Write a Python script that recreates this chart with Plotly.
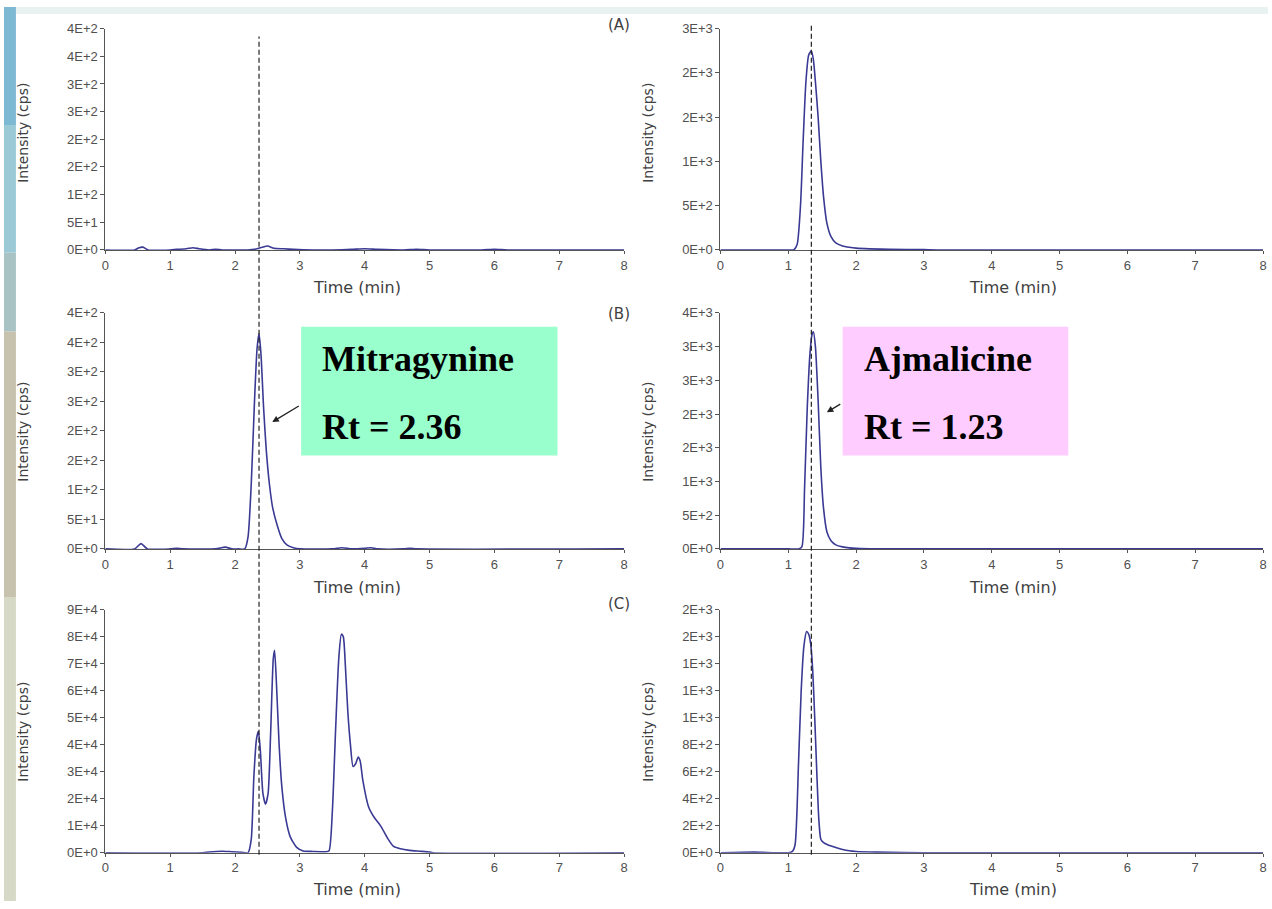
import plotly.graph_objects as go
from plotly.subplots import make_subplots

W, H = 1272, 909

# ---------------- data ----------------
# Left column (Mitragynine channel)
t_left_a = [0, 0.45, 0.52, 0.58, 0.66, 1.0, 1.1, 1.25, 1.35, 1.45, 1.6, 1.7, 1.8, 2.0, 2.2, 2.3,
            2.42, 2.5, 2.6, 2.75, 2.9, 3.2, 3.5, 3.8, 4.0, 4.2, 4.6, 4.8, 5.0, 5.8, 6.0, 6.2, 7.0, 8.0]
i_left_a = [0, 0, 4, 5, 0, 0, 1, 2, 4, 2, 0, 1, 0, 0, 0, 1,
            5, 7, 3, 2, 1, 0, 0, 1, 2, 1, 0, 1, 0, 0, 1, 0, 0, 0]

t_left_b = [0, 0.45, 0.55, 0.65, 1.0, 1.1, 1.2, 1.7, 1.85, 1.95, 2.05, 2.15, 2.2, 2.25, 2.3, 2.34,
            2.37, 2.40, 2.44, 2.48, 2.53, 2.58, 2.65, 2.72, 2.8, 2.9, 3.0, 3.5, 3.65, 3.8, 4.0,
            4.1, 4.2, 4.6, 4.7, 4.8, 8.0]
i_left_b = [0, 0, 9, 0, 0, 1, 0, 0, 3, 0, 0, 0, 20, 110, 250, 340,
            365, 330, 240, 170, 110, 70, 40, 18, 7, 2, 0, 0, 2, 0, 1,
            2, 0, 0, 1, 0, 0]

t_left_c = [0, 1.5, 1.6, 1.8, 1.95, 2.1, 2.2, 2.25, 2.29, 2.33, 2.36, 2.39, 2.43, 2.47, 2.51,
            2.55, 2.59, 2.61, 2.64, 2.68, 2.72, 2.78, 2.85, 2.95, 3.05, 3.2, 3.4, 3.45, 3.5,
            3.55, 3.6, 3.64, 3.67, 3.7, 3.74, 3.78, 3.82, 3.86, 3.9, 3.93, 3.97, 4.06, 4.15,
            4.25, 4.35, 4.44, 4.55, 4.69, 4.85, 5.0, 5.05, 8.0]
i_left_c = [0, 0, 300, 600, 400, 200, 0, 5000, 28000, 42000, 45000, 38000, 22000, 18000, 22000,
            45000, 72000, 75000, 62000, 40000, 25000, 13000, 6000, 2000, 700, 500, 400, 800, 15000,
            45000, 72000, 81000, 80000, 70000, 52000, 40000, 32000, 33000, 35500, 34000, 27000, 17000, 13000,
            9800, 5500, 2500, 1500, 900, 600, 300, 0, 0]

# Right column (Ajmalicine channel)
t_right_a = [0, 0.5, 1.0, 1.08, 1.13, 1.18, 1.22, 1.26, 1.30, 1.34, 1.37, 1.40, 1.44, 1.48,
             1.52, 1.57, 1.63, 1.7, 1.8, 1.9, 2.0, 2.2, 2.5, 3.0, 3.2, 8.0]
i_right_a = [0, 0, 0, 0, 60, 500, 1250, 1900, 2200, 2250, 2150, 1900, 1500, 1000,
             600, 300, 150, 80, 45, 30, 20, 12, 6, 3, 0, 0]

t_right_b = [0, 1.0, 1.15, 1.20, 1.24, 1.28, 1.32, 1.35, 1.37, 1.40, 1.44, 1.48, 1.52, 1.57,
             1.63, 1.7, 1.8, 1.9, 2.0, 2.3, 8.0]
i_right_b = [0, 0, 0, 30, 900, 2100, 2900, 3180, 3220, 3000, 2200, 1200, 600, 250,
             120, 60, 30, 15, 8, 0, 0]

t_right_c = [0, 0.5, 1.0, 1.06, 1.1, 1.15, 1.19, 1.23, 1.27, 1.30, 1.33, 1.36, 1.39, 1.42,
             1.45, 1.48, 1.52, 1.58, 1.7, 1.8, 1.9, 2.0, 2.3, 3.0, 8.0]
i_right_c = [0, 5, 0, 10, 60, 650, 1200, 1530, 1640, 1620, 1550, 1350, 1000, 600,
             250, 100, 75, 60, 40, 25, 15, 10, 5, 0, 0]

# Tick values / labels
x_ticks = [0, 1, 2, 3, 4, 5, 6, 7, 8]
y_ticks_left_ab = [0, 50, 100, 150, 200, 250, 300, 350, 400]
y_text_left_ab = ["0E+0", "5E+1", "1E+2", "2E+2", "2E+2", "3E+2", "3E+2", "4E+2", "4E+2"]
y_ticks_left_c = [0, 10000, 20000, 30000, 40000, 50000, 60000, 70000, 80000, 90000]
y_text_left_c = ["0E+0", "1E+4", "2E+4", "3E+4", "4E+4", "5E+4", "6E+4", "7E+4", "8E+4", "9E+4"]
y_ticks_right_a = [0, 500, 1000, 1500, 2000, 2500]
y_text_right_a = ["0E+0", "5E+2", "1E+3", "2E+3", "2E+3", "3E+3"]
y_ticks_right_b = [0, 500, 1000, 1500, 2000, 2500, 3000, 3500]
y_text_right_b = ["0E+0", "5E+2", "1E+3", "2E+3", "2E+3", "3E+3", "3E+3", "4E+3"]
y_ticks_right_c = [0, 200, 400, 600, 800, 1000, 1200, 1400, 1600, 1800]
y_text_right_c = ["0E+0", "2E+2", "4E+2", "6E+2", "8E+2", "1E+3", "1E+3", "1E+3", "2E+3", "2E+3"]

rt_left_line = 2.37
rt_right_line = 1.34

# ---------------- helpers ----------------
def px(x):
    return x / W

def py(y):
    return 1 - y / H

fig = make_subplots(rows=3, cols=2)

series = [
    (1, 1, t_left_a, i_left_a), (1, 2, t_right_a, i_right_a),
    (2, 1, t_left_b, i_left_b), (2, 2, t_right_b, i_right_b),
    (3, 1, t_left_c, i_left_c), (3, 2, t_right_c, i_right_c),
]
LINE_COLOR = "#3a3a94"
for r, c, t, v in series:
    fig.add_trace(go.Scatter(x=t, y=v, mode="lines",
                             line=dict(color=LINE_COLOR, width=1.6, shape="spline", smoothing=0.6),
                             showlegend=False, hoverinfo="skip"), row=r, col=c)

AX = "#555555"
TICKFONT = dict(family="Liberation Sans, Arial, sans-serif", size=13, color="#505050")

x_dom_left = [px(102), px(624)]
x_dom_right = [px(721), px(1267)]
y_doms = [[py(247), py(22)], [py(551), py(311)], [py(860), py(613)]]
yconf = {
    (1, 1): (y_ticks_left_ab, y_text_left_ab),
    (1, 2): (y_ticks_right_a, y_text_right_a),
    (2, 1): (y_ticks_left_ab, y_text_left_ab),
    (2, 2): (y_ticks_right_b, y_text_right_b),
    (3, 1): (y_ticks_left_c, y_text_left_c),
    (3, 2): (y_ticks_right_c, y_text_right_c),
}
for (r, c), (tv, tt) in yconf.items():
    fig.update_xaxes(row=r, col=c, domain=x_dom_left if c == 1 else x_dom_right,
                     range=[0, 8], tickvals=x_ticks, ticktext=[str(v) for v in x_ticks],
                     showline=True, linecolor=AX, linewidth=1, ticks="outside", ticklen=3,
                     tickcolor=AX, showgrid=False, zeroline=False, tickfont=TICKFONT,
                     fixedrange=True)
    fig.update_yaxes(row=r, col=c, domain=y_doms[r - 1], range=[0, tv[-1]],
                     tickvals=tv, ticktext=tt, showline=True, linecolor=AX, linewidth=1,
                     ticks="outside", ticklen=4, tickcolor=AX, showgrid=False, zeroline=False,
                     tickfont=TICKFONT, fixedrange=True)

shapes = []
# slide background strips
shapes.append(dict(type="rect", xref="paper", yref="paper", x0=0, x1=1, y0=py(7), y1=1,
                   fillcolor="#e8f3f1", line=dict(width=0), layer="below"))
strip = [(0, 120, "#7db9d2"), (120, 250, "#9cc9d6"), (250, 330, "#a9c3c4"),
         (330, 600, "#c6c2ad"), (600, 909, "#d6d9c6")]
for y0, y1, col in strip:
    shapes.append(dict(type="rect", xref="paper", yref="paper", x0=0, x1=px(12),
                       y0=py(y1), y1=py(y0), fillcolor=col, line=dict(width=0), layer="below"))

# retention-time dashed lines
shapes.append(dict(type="line", xref="x", yref="paper", x0=rt_left_line, x1=rt_left_line,
                   y0=py(862), y1=py(30), line=dict(color="#222222", width=1.2, dash="5px,3px")))
shapes.append(dict(type="line", xref="x2", yref="paper", x0=rt_right_line, x1=rt_right_line,
                   y0=py(862), y1=py(16), line=dict(color="#222222", width=1.2, dash="5px,3px")))

# label boxes
shapes.append(dict(type="rect", xref="paper", yref="paper", x0=px(299), x1=px(557),
                   y0=py(456), y1=py(325), fillcolor="#99ffcc", line=dict(width=0)))
shapes.append(dict(type="rect", xref="paper", yref="paper", x0=px(844), x1=px(1071),
                   y0=py(456), y1=py(325), fillcolor="#ffccff", line=dict(width=0)))
fig.update_layout(shapes=shapes)

annotations = []
YTITLEFONT = dict(family="DejaVu Sans, sans-serif", size=14, color="#404040")
XTITLEFONT = dict(family="DejaVu Sans, sans-serif", size=16, color="#404040")
PANELFONT = dict(family="DejaVu Sans, sans-serif", size=15, color="#404040")
for yc in [128, 432, 737]:
    annotations.append(dict(text="Intensity (cps)", x=px(19), y=py(yc), xref="paper", yref="paper",
                            textangle=-90, showarrow=False, font=YTITLEFONT,
                            xanchor="center", yanchor="middle"))
    annotations.append(dict(text="Intensity (cps)", x=px(648), y=py(yc), xref="paper", yref="paper",
                            textangle=-90, showarrow=False, font=YTITLEFONT,
                            xanchor="center", yanchor="middle"))
for yc in [285, 590, 897]:
    annotations.append(dict(text="Time (min)", x=px(355), y=py(yc), xref="paper", yref="paper",
                            showarrow=False, font=XTITLEFONT,
                            xanchor="center", yanchor="middle"))
    annotations.append(dict(text="Time (min)", x=px(1015), y=py(yc), xref="paper", yref="paper",
                            showarrow=False, font=XTITLEFONT,
                            xanchor="center", yanchor="middle"))
for lab, yc in [("(A)", 18), ("(B)", 312), ("(C)", 607)]:
    annotations.append(dict(text=lab, x=px(619), y=py(yc), xref="paper", yref="paper",
                            showarrow=False, font=PANELFONT, xanchor="center", yanchor="middle"))

BOXFONT = dict(family="Liberation Serif, Times New Roman, serif", size=36, color="black")
for txt, x, y in [("<b>Mitragynine</b>", 318, 358), ("<b>Rt = 2.36</b>", 318, 427),
                  ("<b>Ajmalicine</b>", 863, 358), ("<b>Rt = 1.23</b>", 863, 427)]:
    annotations.append(dict(text=txt, x=px(x), y=py(y), xref="paper", yref="paper",
                            showarrow=False, font=BOXFONT, xanchor="left", yanchor="middle"))

# arrows
for hx, hy, tx, ty in [(270, 422, 298, 405), (828, 412, 843, 403)]:
    annotations.append(dict(text="", x=px(hx), y=py(hy), xref="paper", yref="paper",
                            ax=tx - hx, ay=ty - hy, showarrow=True, arrowhead=2, arrowsize=1,
                            arrowwidth=1.3, arrowcolor="#222222"))
fig.update_layout(annotations=annotations)

fig.update_layout(width=W, height=H, margin=dict(l=0, r=0, t=0, b=0),
                  paper_bgcolor="white", plot_bgcolor="white", showlegend=False)

fig.write_html("out.html")
